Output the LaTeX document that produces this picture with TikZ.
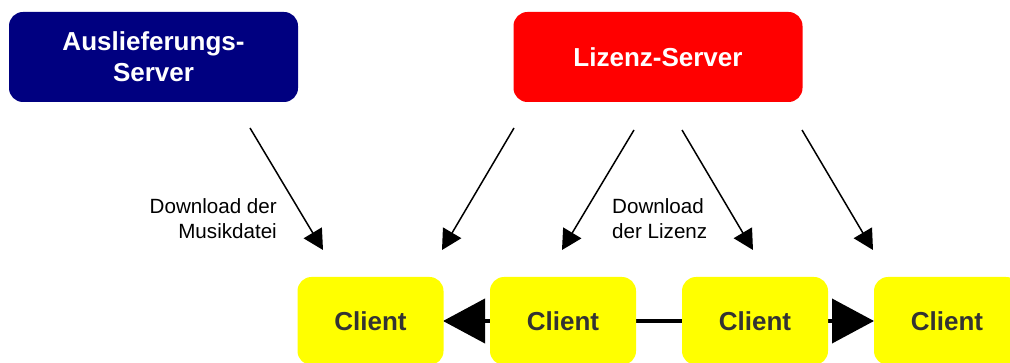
\documentclass[tikz,border=0pt]{standalone}
\usepackage{fontspec}
\setmainfont{Liberation Sans}
\usetikzlibrary{arrows.meta}
\definecolor{navybox}{HTML}{000080}
\definecolor{redbox}{HTML}{FF0000}
\definecolor{yellowbox}{HTML}{FFFF00}
\definecolor{clienttext}{HTML}{333333}
\begin{document}
\begin{tikzpicture}[x=1pt,y=-1pt,
  server/.style={rounded corners=14pt, minimum width=289pt, minimum height=90pt,
    text=white, font=\fontsize{26}{31}\selectfont\bfseries, align=center, inner sep=0pt},
  client/.style={rounded corners=14pt, fill=yellowbox, minimum width=146pt, minimum height=88pt,
    text=clienttext, font=\fontsize{26}{31}\selectfont\bfseries, inner sep=0pt},
  dl/.style={-{Triangle[length=20pt,width=21pt]}, line width=1.5pt},
  p2p/.style={{Triangle[length=42pt,width=44pt]}-{Triangle[length=42pt,width=44pt]}, line width=4pt},
  lbl/.style={font=\fontsize{20.6}{25}\selectfont, inner sep=0pt}]
\useasboundingbox (0,0) rectangle (1010,363);
\clip (0,0) rectangle (1010,363);
\node[server, fill=navybox] (as) at (153.5,57) {Auslieferungs-\\Server};
\node[server, fill=redbox] (ls) at (658,57) {Lizenz-Server};
% horizontal connector behind clients
\coordinate (c1e) at (443,321);
\coordinate (c4w) at (874,321);
\draw[p2p] (c1e) -- (c4w);
\node[client] (c1) at (370.5,321) {Client};
\node[client] (c2) at (563,321) {Client};
\node[client] (c3) at (755,321) {Client};
\node[client] (c4) at (947,321) {Client};
% diagonal connectors
\coordinate (a1s) at (250,128); \coordinate (a1e) at (323,250);
\coordinate (a2s) at (514,128); \coordinate (a2e) at (442,250);
\coordinate (a3s) at (634,130); \coordinate (a3e) at (562,250);
\coordinate (a4s) at (682,130); \coordinate (a4e) at (753,250);
\coordinate (a5s) at (802,130); \coordinate (a5e) at (873,250);
\draw[dl] (a1s) -- (a1e);
\draw[dl] (a2s) -- (a2e);
\draw[dl] (a3s) -- (a3e);
\draw[dl] (a4s) -- (a4e);
\draw[dl] (a5s) -- (a5e);
\node[lbl, align=right, anchor=north east] (l1) at (277,198) {Download der\\Musikdatei};
\node[lbl, align=left, anchor=north west] (l2) at (612,198) {Download\\der Lizenz};
\end{tikzpicture}
\end{document}
